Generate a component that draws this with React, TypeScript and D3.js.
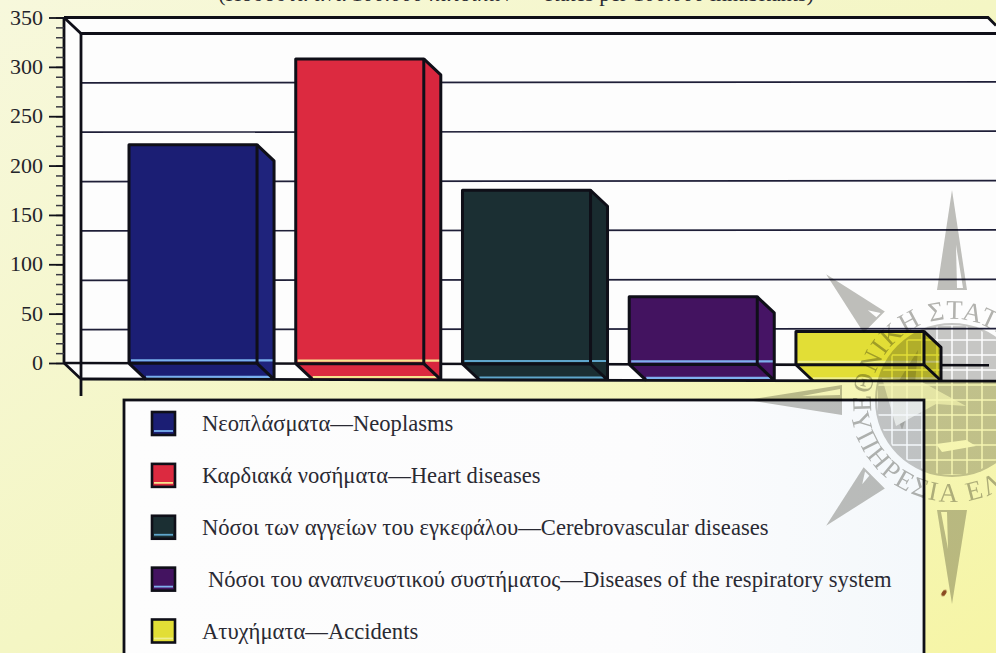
import { useEffect, useRef } from "react";
import * as d3 from "d3";

const categories = ["Neoplasms", "Heart diseases", "Cerebrovascular diseases", "Respiratory", "Accidents"];
const values = [221, 308, 175, 67, 32];
const faceColors = ["#1b1e74", "#dc2a40", "#1b2f33", "#431360", "#e2de36"];
const sideColors = ["#1f237c", "#d8263e", "#192b2f", "#461465", "#dcd830"];
const glowColors = ["#79b0ee", "#f6e48e", "#5fa6cc", "#7fb0ee", "#eeee90"];
const majorTicks = [0, 50, 100, 150, 200, 250, 300, 350];
const minorTicks = d3.range(0, 351, 10);
const gridTicks = [50, 100, 150, 200, 250, 300];
const legendLabels = [
  "Νεοπλάσματα—Neoplasms",
  "Καρδιακά νοσήματα—Heart diseases",
  "Νόσοι των αγγείων του εγκεφάλου—Cerebrovascular diseases",
  " Νόσοι του αναπνευστικού συστήματος—Diseases of the respiratory system",
  "Ατυχήματα—Accidents",
];
const subtitle = "(Ποσοστά ανά 100.000 κατοίκων — Rates per 100.000 inhabitants)";

const width = 996;
const height = 653;
const ink = "#0f0f18";
const dx = 17;
const dy = 16;

const App = () => {
  const ref = useRef<SVGSVGElement>(null);

  useEffect(() => {
    const svg = d3.select(ref.current).attr("viewBox", `0 0 ${width} ${height}`);
    svg.selectAll("*").remove();

    const y = d3.scaleLinear().domain([0, 350]).range([363, 17.5]);
    const x = d3.scaleBand().domain(categories).range([129, 924]).paddingInner(0.232).paddingOuter(0);
    // the scan sits slightly crooked: the floor drops about 2px going right
    const tilt = (px: number) => (px / width) * 2.2;
    const line = d3.line();

    const defs = svg.append("defs");
    const bg = defs.append("linearGradient").attr("id", "paper").attr("x1", 0).attr("y1", 0).attr("x2", 1).attr("y2", 1);
    bg.append("stop").attr("offset", "0%").attr("stop-color", "#f7f8dc");
    bg.append("stop").attr("offset", "50%").attr("stop-color", "#f4f6c4");
    bg.append("stop").attr("offset", "100%").attr("stop-color", "#f6f5a6");
    const box = defs.append("linearGradient").attr("id", "legendFill").attr("x1", 0).attr("y1", 0).attr("x2", 1).attr("y2", 0);
    box.append("stop").attr("offset", "0%").attr("stop-color", "#fdfdfd");
    box.append("stop").attr("offset", "65%").attr("stop-color", "#fcfcfd");
    box.append("stop").attr("offset", "100%").attr("stop-color", "#f4f8fb");

    svg.append("rect").attr("width", width).attr("height", height).attr("fill", "url(#paper)");

    svg
      .append("text")
      .attr("x", 516)
      .attr("y", 1)
      .attr("text-anchor", "middle")
      .attr("font-family", "Liberation Serif")
      .attr("font-size", 22)
      .attr("fill", "#2a2a30")
      .text(subtitle);

    // chart box: top, left wall, back wall, floor
    const x0 = 64;
    const top = y(350);
    const base = y(0);
    svg
      .append("path")
      .attr("d", line([[x0, top], [988, top], [996, top + 8], [996, base + dy + tilt(996)], [x0 + dx, base + dy], [x0, base]]))
      .attr("fill", "#fdfdfd");

    const grid = svg.append("g");
    gridTicks.forEach((t) => {
      grid
        .append("line")
        .attr("x1", x0 + dx)
        .attr("x2", width)
        .attr("y1", y(t) + dy)
        .attr("y2", y(t) + dy - 1)
        .attr("stroke", "#1f1f38")
        .attr("stroke-width", 1.7);
    });

    const frame = svg.append("g").attr("fill", "none").attr("stroke", ink).attr("stroke-width", 2.8);
    frame.append("path").attr("d", line([[x0, top], [988, top], [996, top + 8]]));
    frame.append("path").attr("d", line([[x0, top], [x0 + dx, top + dy], [width, top + dy]]));
    frame.append("path").attr("d", line([[x0, top], [x0, base], [x0 + dx, base + dy], [x0 + dx, base + dy + 17]]));
    frame.append("path").attr("d", line([[x0 + dx, top + dy], [x0 + dx, base + dy]]));

    // y axis, major and minor ticks
    const minor = svg
      .append("g")
      .attr("transform", `translate(${x0},0)`)
      .call(d3.axisLeft(y).tickValues(minorTicks).tickSize(8).tickFormat(() => ""));
    minor.select(".domain").remove();
    minor.selectAll("line").attr("stroke", "#3a3a42").attr("stroke-width", 1.5);

    const major = svg
      .append("g")
      .attr("transform", `translate(${x0},0)`)
      .call(d3.axisLeft(y).tickValues(majorTicks).tickSize(15).tickPadding(6));
    major.select(".domain").remove();
    major.selectAll("line").attr("stroke", ink).attr("stroke-width", 1.8);
    major
      .selectAll("text")
      .attr("font-family", "Liberation Serif")
      .attr("font-size", 22)
      .attr("fill", "#24242a")
      .attr("dy", "0.3em");

    // floor front edge and baseline
    svg
      .append("path")
      .attr("d", line([[x0, base], [989, base + tilt(989)]]))
      .attr("stroke", ink)
      .attr("stroke-width", 2.6)
      .attr("fill", "none");

    // 3d bars
    categories.forEach((c, i) => {
      const left = x(c) as number;
      const right = left + x.bandwidth();
      const yTop = y(values[i]);
      const b = base + tilt(left);
      const g = svg.append("g");

      // floor shadow under the bar
      g.append("path")
        .attr("d", line([[left, b], [left + dx, b + dy], [right + dx, b + dy], [right, b]]) + "Z")
        .attr("fill", faceColors[i]);
      g.append("path")
        .attr("d", line([[left + dx, b + dy - 2.5], [right + dx - 4, b + dy - 2.5]]))
        .attr("stroke", glowColors[i])
        .attr("stroke-width", 2.2);

      // side
      g.append("path")
        .attr("d", line([[right, yTop], [right + dx, yTop + dy], [right + dx, b + dy], [right, b]]) + "Z")
        .attr("fill", sideColors[i]);
      // front
      g.append("rect")
        .attr("x", left)
        .attr("y", yTop)
        .attr("width", right - left)
        .attr("height", b - yTop)
        .attr("fill", faceColors[i]);
      g.append("path")
        .attr("d", line([[left + 2, b - 3], [right + dx - 1, b - 3]]))
        .attr("stroke", glowColors[i])
        .attr("stroke-width", 2.2);

      const edges = g.append("g").attr("fill", "none").attr("stroke", ink).attr("stroke-width", 3).attr("stroke-linejoin", "round");
      edges.append("path").attr("d", line([[left, b], [left, yTop], [right, yTop], [right, b]]));
      edges.append("path").attr("d", line([[right, yTop], [right + dx, yTop + dy], [right + dx, b + dy]]));
      edges.append("path").attr("d", line([[left, b], [right, b]]));
      edges.append("path").attr("d", line([[left, b], [left + dx, b + dy]]));
      edges.append("path").attr("d", line([[right, b], [right + dx, b + dy]]));
    });

    // floor front line goes on top of the bars
    svg
      .append("path")
      .attr("d", line([[x0 + dx, base + dy], [width, base + dy + tilt(width)]]))
      .attr("stroke", ink)
      .attr("stroke-width", 2.8)
      .attr("fill", "none");

    // legend
    svg
      .append("rect")
      .attr("x", 124)
      .attr("y", 400)
      .attr("width", 800)
      .attr("height", 300)
      .attr("fill", "url(#legendFill)")
      .attr("stroke", ink)
      .attr("stroke-width", 2.8);

    const row = d3.scalePoint<number>().domain(d3.range(5)).range([424, 631.5]);
    const rows = svg
      .selectAll("g.row")
      .data(legendLabels)
      .enter()
      .append("g")
      .attr("class", "row")
      .attr("transform", (d, i) => `translate(0,${row(i)})`);
    rows
      .append("rect")
      .attr("x", 152)
      .attr("y", -12)
      .attr("width", 23)
      .attr("height", 23)
      .attr("fill", (d, i) => faceColors[i])
      .attr("stroke", ink)
      .attr("stroke-width", 2.6);
    rows
      .append("line")
      .attr("x1", 154)
      .attr("x2", 173)
      .attr("y1", 7)
      .attr("y2", 7)
      .attr("stroke", (d, i) => glowColors[i])
      .attr("stroke-width", 1.8);
    rows
      .append("text")
      .attr("x", (d, i) => (i === 3 ? 208 : 202))
      .attr("y", 7)
      .attr("font-family", "Liberation Serif")
      .attr("font-size", 22.6)
      .attr("fill", "#2a2a33")
      .text((d) => d.trim());

    // watermark stamp of the statistical service, printed over everything
    const cx = 952;
    const cy = 400;
    const stamp = svg
      .append("g")
      .attr("transform", `translate(${cx},${cy})`)
      .style("mix-blend-mode", "multiply");
    const stampInk = "#c8c8c6";

    const points = [
      { a: 0, r: 210 },
      { a: -45, r: 178 },
      { a: -90, r: 205 },
      { a: -135, r: 178 },
      { a: 180, r: 204 },
      { a: 45, r: 178 },
      { a: 90, r: 205 },
      { a: 135, r: 178 },
    ];
    points.forEach((p) => {
      const s = stamp.append("g").attr("transform", `rotate(${p.a})`);
      s.append("path")
        .attr("d", line([[0, -p.r], [15, -110], [-15, -110]]) + "Z")
        .attr("fill", "#c0c0bc");
      s.append("path")
        .attr("d", line([[4, -p.r + 55], [11, -112], [5, -112]]) + "Z")
        .attr("fill", "#ffffff");
    });

    stamp.append("circle").attr("r", 77).attr("fill", stampInk);
    defs.append("clipPath").attr("id", "disc").append("circle").attr("r", 75);
    const disc = stamp.append("g").attr("clip-path", "url(#disc)");
    disc
      .append("path")
      .attr("d", line([[-62, -5], [-50, 30], [-38, -5], [-34, -50]]) + "Z")
      .attr("fill", "#a8a8a4");
    disc
      .append("path")
      .attr("d", line([[-70, -22], [-30, -18], [14, 6], [-16, 4], [-56, 26]]) + "Z")
      .attr("fill", "#eeeeea");
    d3.range(-75, 76, 15).forEach((t) => {
      disc.append("line").attr("x1", t).attr("x2", t).attr("y1", -80).attr("y2", 80).attr("stroke", "#fff").attr("stroke-width", 1.5);
      disc.append("line").attr("x1", -80).attr("x2", 80).attr("y1", t).attr("y2", t).attr("stroke", "#fff").attr("stroke-width", 1.5);
    });
    disc
      .append("path")
      .attr("d", line([[-16, 44], [14, 40], [24, 46], [-10, 52]]) + "Z")
      .attr("fill", "#ffffff");

    const upper = d3.path();
    upper.arc(0, 0, 81, (-188 * Math.PI) / 180, (10 * Math.PI) / 180, false);
    const lower = d3.path();
    lower.arc(0, 0, 102, (172 * Math.PI) / 180, (10 * Math.PI) / 180, true);
    defs.append("path").attr("id", "ringTop").attr("d", upper.toString());
    defs.append("path").attr("id", "ringBottom").attr("d", lower.toString());
    [
      ["ringTop", "ΕΘΝΙΚΗ ΣΤΑΤΙΣΤΙΚΗ", 0.8],
      ["ringBottom", "ΥΠΗΡΕΣΙΑ ΕΛΛΑΔΟΣ", 2.5],
    ].forEach(([id, label, spacing]) => {
      stamp
        .append("text")
        .attr("font-family", "Liberation Serif")
        .attr("font-size", 27)
        .attr("letter-spacing", spacing as number)
        .attr("fill", "#b4b4b0")
        .append("textPath")
        .attr("href", `#${id}`)
        .text(label as string);
    });

    // specks on the scan
    svg.append("ellipse").attr("cx", 944).attr("cy", 593).attr("rx", 2).attr("ry", 3.5).attr("transform", "rotate(35 944 593)").attr("fill", "#8a4a20");
  }, []);

  return (
    <svg
      ref={ref}
      width={width}
      height={height}
      style={{ position: "fixed", left: 0, top: 0, display: "block" }}
    ></svg>
  );
};

export default App;
